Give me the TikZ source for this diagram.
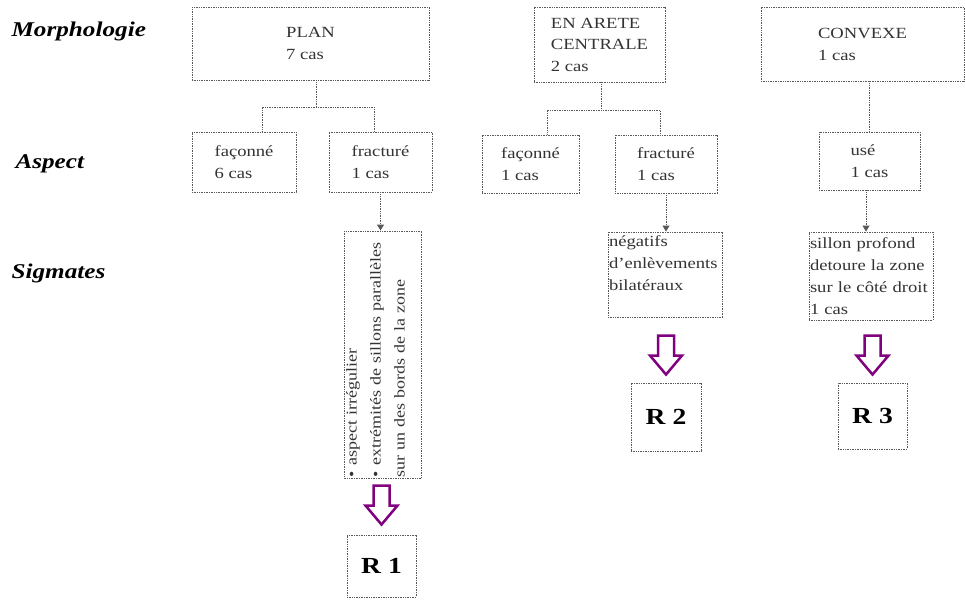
\documentclass[tikz,border=0pt]{standalone}
\usepackage{fontspec}
\setmainfont{Liberation Serif}[FakeStretch=1.2]
\usetikzlibrary{arrows.meta}
\definecolor{mauve}{RGB}{128,0,128}

\tikzset{
  fleche/.pic={
    \draw[mauve, line width=2.5pt, fill=white, line join=miter]
      (-8,1) -- (8,1) -- (8,21) -- (16,21) -- (0,40) -- (-16,21) -- (-8,21) -- cycle;
  }
}

\begin{document}
\begin{tikzpicture}[x=1pt, y=-1pt,
    cadre/.style={draw=black!65, line width=0.9pt, dash pattern=on 1pt off 0.7pt,
      inner sep=2pt, align=left, text=black!80, font=\fontsize{15.5}{22}\selectfont},
    titre/.style={anchor=base west, font=\fontsize{21}{24}\selectfont\bfseries\itshape},
    lien/.style={draw=black!65, line width=0.9pt, dash pattern=on 1pt off 0.7pt},
    pointe/.style={-{Triangle[length=6pt,width=7pt]}},
    resultat/.style={cadre, minimum width=69, text=black,
      font=\fontsize{23}{26}\selectfont\bfseries}]
  \useasboundingbox (0,0) rectangle (965,599);
  % Row titles
  \node[titre] (tmorpho) at (8,37) {Morphologie};
  \node[titre] (taspect) at (12,168) {Aspect};
  \node[titre] (tsigma) at (8,278) {Sigmates};
  % Morphologie
  \node[cadre, minimum width=237, minimum height=73] (plan) at (310.5,43.5) {PLAN\\7 cas};
  \node[cadre, minimum width=131, minimum height=75, font=\fontsize{15.5}{21.5}\selectfont] (arete) at (599.5,44.5) {EN ARETE\\CENTRALE\\2 cas};
  \node[cadre, minimum width=203, minimum height=74] (convexe) at (862.5,44) {CONVEXE\\1 cas};
  % Aspect
  \node[cadre, minimum width=104, minimum height=60] (fac1) at (244,162) {façonné\\6 cas};
  \node[cadre, minimum width=103, minimum height=60] (frac1) at (380.5,162) {fracturé\\1 cas};
  \node[cadre, minimum width=97, minimum height=58] (fac2) at (530.5,164) {façonné\\1 cas};
  \node[cadre, minimum width=102, minimum height=58] (frac2) at (666,164) {fracturé\\1 cas};
  \node[cadre, minimum width=101, minimum height=58] (use) at (869.5,161) {usé\\1 cas};
  % Sigmates
  \node[cadre, rotate=90, minimum width=247, minimum height=76, inner xsep=1pt, text width=245,
    font=\fontsize{15}{24}\selectfont] (sig1) at (383,354.5)
    {\mbox{\textbullet\ aspect irrégulier}\\\mbox{\textbullet\ extrémités de sillons parallèles}\\\mbox{sur un des bords de la zone}\rule[-15pt]{0pt}{1pt}};
  \node[cadre, minimum width=114, minimum height=85, inner xsep=1pt, text width=112] (sig2) at (665,274.5)
    {négatifs\\d'enlèvements\\bilatéraux\\\mbox{}};
  \node[cadre, minimum width=124, minimum height=88, inner xsep=1pt, text width=122] (sig3) at (871,276)
    {sillon profond\\detoure la zone\\sur le côté droit\\1 cas};
  % Results
  \node[resultat, minimum height=62] (r1) at (381.5,566) {R 1};
  \node[resultat, minimum height=68, minimum width=70] (r2) at (666,417) {R 2};
  \node[resultat, minimum height=66] (r3) at (872.5,416) {R 3};
  % Tree links
  \draw[lien] ([xshift=5.5pt]plan.south) -- ++(0,27) coordinate (j1);
  \draw[lien] ([xshift=18pt]fac1.north) |- (j1) -| ([xshift=-6.5pt]frac1.north);
  \draw[lien] ([xshift=1.5pt]arete.south) -- ++(0,28) coordinate (j2);
  \draw[lien] ([xshift=16.5pt]fac2.north) |- (j2) -| ([xshift=-6pt]frac2.north);
  \draw[lien] (convexe.south -| use.north) -- (use.north);
  % Arrows to sigmates
  \draw[lien, pointe] (frac1.south) -- (frac1.south |- sig1.east);
  \draw[lien, pointe] (frac2.south) -- (frac2.south |- sig2.north);
  \draw[lien, pointe] ([xshift=-3.5pt]use.south) -- ([xshift=-3.5pt]use.south |- sig3.north);
  % Block arrows
  \pic at ([yshift=50pt]r1.north) {fleche};
  \pic at ([yshift=48pt]r2.north) {fleche};
  \pic at ([yshift=48pt]r3.north) {fleche};
\end{tikzpicture}
\end{document}
